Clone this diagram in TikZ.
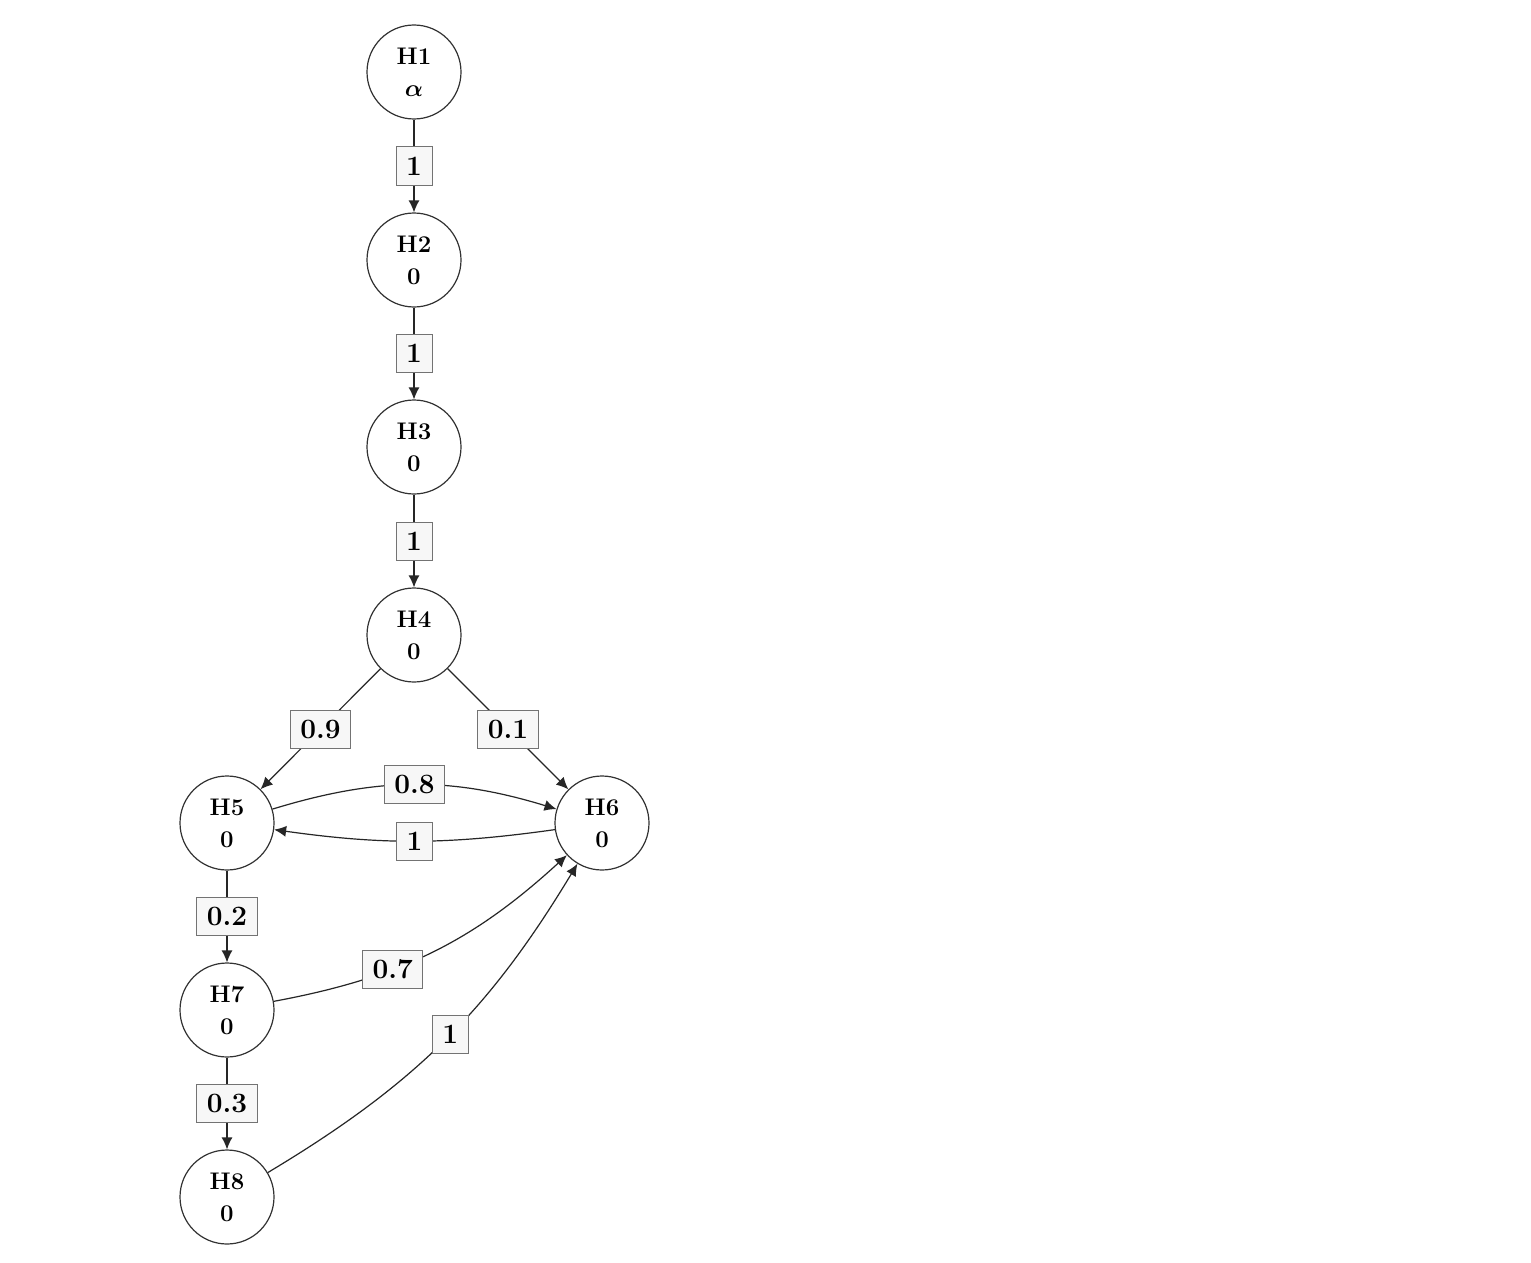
\documentclass[tikz,border=0pt]{standalone}
\usepackage{amsmath,bm}
\usetikzlibrary{arrows.meta}
\begin{document}
\begin{tikzpicture}[x=0.5pt,y=-0.5pt,
  hnode/.style={circle,draw=black!80,line width=0.6pt,minimum size=47pt,inner sep=0pt,align=center,font=\fontsize{12}{15}\selectfont\bfseries},
  wlabel/.style={draw=black!55,fill=black!3,line width=0.5pt,font=\fontsize{14}{15}\selectfont\bfseries,inner xsep=5pt,inner ysep=2.5pt,minimum height=19pt,minimum width=18pt},
  conn/.style={draw=black!85,line width=0.6pt,-{Latex[length=6pt,width=5.5pt]}}]
\useasboundingbox (0,0) rectangle (1531,1263);
\fill[white] (0,0) rectangle (1531,1263);
\node[hnode] (h1) at (414,72) {H1\\[1pt]$\bm{\alpha}$};
\node[hnode] (h2) at (414,260) {H2\\[1pt]0};
\node[hnode] (h3) at (414,447) {H3\\[1pt]0};
\node[hnode] (h4) at (414,635) {H4\\[1pt]0};
\node[hnode] (h5) at (227,823) {H5\\[1pt]0};
\node[hnode] (h6) at (602,823) {H6\\[1pt]0};
\node[hnode] (h7) at (227,1010) {H7\\[1pt]0};
\node[hnode] (h8) at (227,1197) {H8\\[1pt]0};
\draw[conn] (h1) -- node[wlabel] {1} (h2);
\draw[conn] (h2) -- node[wlabel] {1} (h3);
\draw[conn] (h3) -- node[wlabel] {1} (h4);
\draw[conn] (h4) -- node[wlabel] {0.9} (h5);
\draw[conn] (h4) -- node[wlabel] {0.1} (h6);
\draw[conn] (h5) to[bend left=17] node[wlabel] {0.8} (h6);
\draw[conn] (h6) to[bend left=8] node[wlabel] {1} (h5);
\draw[conn] (h5) -- node[wlabel] {0.2} (h7);
\draw[conn] (h7) -- node[wlabel] {0.3} (h8);
\draw[conn] (h7) to[bend right=16] node[wlabel,pos=0.36] {0.7} (h6);
\draw[conn] (h8) to[bend right=14] node[wlabel,pos=0.52] {1} (h6);
\end{tikzpicture}
\end{document}
